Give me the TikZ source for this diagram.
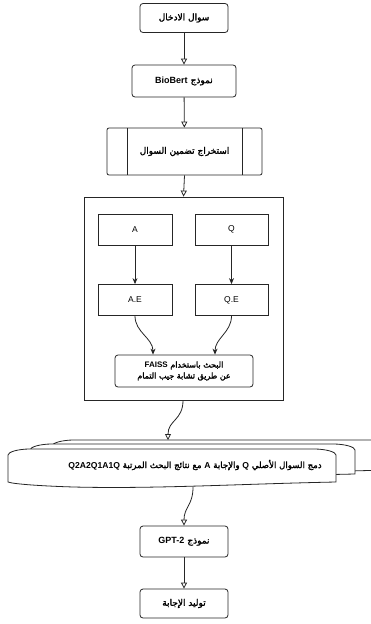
\documentclass[tikz,border=0pt]{standalone}
\usepackage{fontspec}
\setmainfont{Liberation Sans}
\newfontfamily\arabicfont[Script=Arabic,BoldFont={DejaVu Sans},BoldFeatures={FakeBold=1.8}]{DejaVu Sans}
\TeXXeTstate=1
\usetikzlibrary{arrows.meta}
\newcommand\ar[1]{{\arabicfont\beginR #1\endR}}
\newcommand\la[1]{\beginL{\normalfont\bfseries #1}\endL{}}
\newcommand\docshape[4]{% x0 y0 w h
  \filldraw[docline] (#1,#2+#4-5) -- (#1,#2+6)
    .. controls (#1,#2+3) and (#1+10,#2+0) .. (#1+22,#2)
    -- (#1+#3-22,#2)
    .. controls (#1+#3-10,#2) and (#1+#3,#2+3) .. (#1+#3,#2+6)
    -- (#1+#3,#2+#4-5)
    .. controls (#1+0.7*#3,#2+#4-3) and (#1+0.45*#3,#2+#4+2) .. (#1+0.2*#3,#2+#4)
    .. controls (#1+0.1*#3,#2+#4-1) and (#1+5,#2+#4-3) .. (#1,#2+#4-5) -- cycle;}
\begin{document}
\begin{tikzpicture}[x=1pt,y=-1pt,
  line/.style={draw=black!85, line width=0.8pt},
  docline/.style={draw=black!85, fill=white, line width=0.8pt},
  rbox/.style={line, rounded corners=3pt, minimum width=88pt, minimum height=29pt, inner sep=0pt, font=\bfseries\fontsize{9}{11}\selectfont, fill=white},
  sbox/.style={line, minimum width=74pt, minimum height=31pt, inner sep=0pt, font=\fontsize{8.5}{10}\selectfont},
  flow/.style={line, -{Triangle[open,length=6pt,width=6pt]}},
  inner/.style={line, -{Stealth[length=6pt,width=5pt]}}]
\useasboundingbox (0,0) rectangle (371,624);
\fill[white] (0,0) rectangle (371,624);

\node[rbox] (n1) at (184,18) {\ar{سوال الادخال}};
\node[rbox, minimum width=104pt, minimum height=32pt] (n2) at (184,81) {\ar{نموذج \la{BioBert}}};
\node[rbox, rounded corners=2pt, minimum width=155pt, minimum height=47pt] (n3) at (184.5,151.5) {\ar{استخراج تضمين السوال}};
\draw[line] (127,128) -- (127,175) (242,128) -- (242,175);

\node[line, minimum width=199pt, minimum height=203pt, inner sep=0pt] (cont) at (183.5,298.5) {};
\node[sbox] (a) at (135,229.5) {A};
\node[sbox, minimum width=73pt] (q) at (231.5,229.5) {Q};
\node[sbox] (ae) at (135,300) {A.E};
\node[sbox, minimum width=73pt] (qe) at (231.5,300) {Q.E};
\node[rbox, minimum width=138pt, minimum height=32pt, align=center, font=\bfseries\fontsize{8}{11}\selectfont] (faiss) at (184,371)
  {\ar{البحث باستخدام \la{FAISS}}\\ \ar{عن طريق تشابة جيب التمام}};

\draw[flow] (n1) -- (n2);
\draw[flow] (n2) -- (n3);
\draw[flow] (n3.south) -- (cont.north);
\draw[inner] (a) -- (ae);
\draw[inner] (q) -- (qe);
\draw[inner] (ae.south) to[out=-90,in=90,looseness=1] ([xshift=-31pt]faiss.north);
\draw[inner] (qe.south) to[out=-90,in=90,looseness=1] ([xshift=31pt]faiss.north);

% multi-document
\docshape{52}{440}{340}{35}
\docshape{30}{444}{325}{35}
\docshape{8}{449}{328}{38}
\node[font=\bfseries\fontsize{8.6}{10}\selectfont, inner sep=0pt] (doc) at (195,465)
  {\ar{دمج السوال الأصلي \la{Q} والإجابة \la{A} مع نتائج البحث المرتبة \la{Q2A2Q1A1Q}}};
\coordinate (doctop) at (168,440);
\coordinate (docbot) at (193,487);

\draw[flow] (cont.south -| 183,0) to[out=-90,in=90,looseness=1.2] (doctop);

\node[rbox, minimum height=31pt] (gpt) at (184,541.5) {\ar{نموذج \la{GPT-2}}};
\node[rbox] (out) at (184,603.5) {\ar{توليد الإجابة}};
\draw[flow] (docbot) to[out=-90,in=90,looseness=1.2] (gpt.north);
\draw[flow] (gpt) -- (out);
\end{tikzpicture}
\end{document}
